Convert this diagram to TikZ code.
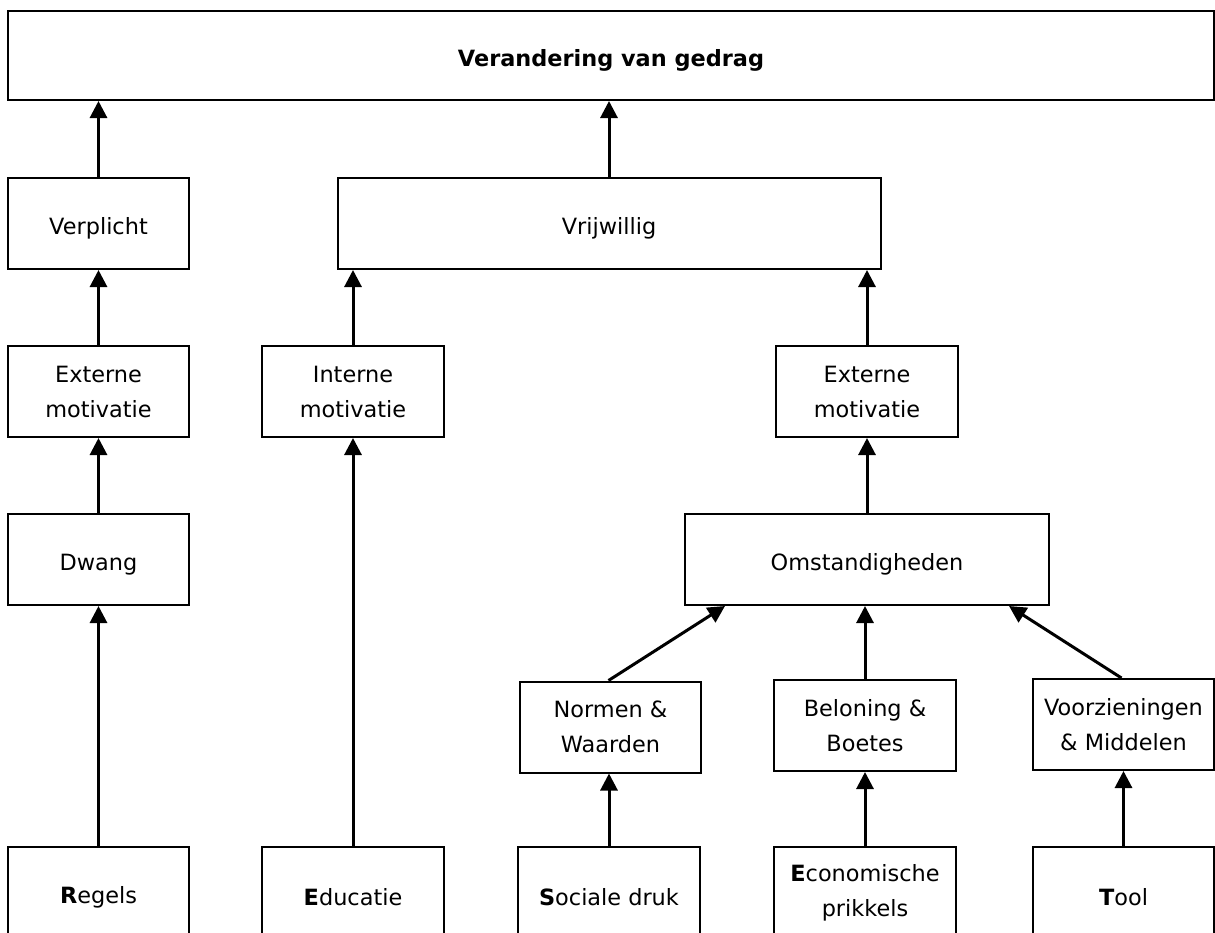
\documentclass[tikz,border=0pt]{standalone}
\usepackage{fontspec}
\setmainfont{DejaVu Sans}
\usepackage{tikz}
\usetikzlibrary{%
	arrows.meta,%
	calc%
}
\tikzset{
	blok/.style={draw,line width=1pt,align=center,minimum height=45.5pt,inner sep=2pt,font=\fontsize{11.2}{17.5}\selectfont,execute at begin node={\rule{0pt}{13pt}}},
	pijl/.style={line width=1.5pt,-{Triangle[width=8.5pt,length=8.5pt]}}
}

\begin{document}
\begin{tikzpicture}[x=0.5pt,y=-0.5pt]
	\clip (0,0) rectangle (1215,932);
	% bovenste rij
	\node[blok,minimum width=603pt,minimum height=44.5pt,font=\fontsize{11.2}{17.5}\selectfont\bfseries] (gedrag) at (611,55.5) {Verandering van gedrag};
	\node[blok,minimum width=90.5pt] (verplicht) at (98.5,223.5) {Verplicht};
	\node[blok,minimum width=271.5pt] (vrijwillig) at (609,223.5) {Vrijwillig};
	% motivatie
	\node[blok,minimum width=90.5pt] (extL) at (98.5,391.5) {Externe\\motivatie};
	\node[blok,minimum width=91pt] (intern) at (353,391.5) {Interne\\motivatie};
	\node[blok,minimum width=91pt] (extR) at (867,391.5) {Externe\\motivatie};
	\node[blok,minimum width=90.5pt] (dwang) at (98.5,559.5) {Dwang};
	\node[blok,minimum width=182pt] (omst) at (867,559.5) {Omstandigheden};
	% tussenlaag
	\node[blok,minimum width=90.5pt] (normen) at (610.5,727) {Normen \&\\Waarden};
	\node[blok,minimum width=91pt] (beloning) at (865,725.5) {Beloning \&\\Boetes};
	\node[blok,minimum width=90.5pt] (voorz) at (1123.5,724.5) {Voorzieningen\\\& Middelen};
	% onderste rij
	\node[blok,minimum width=90.5pt] (regels) at (98.5,892.5) {\textbf{R}egels};
	\node[blok,minimum width=91pt] (educatie) at (353,892.5) {\textbf{E}ducatie};
	\node[blok,minimum width=91pt] (sociaal) at (609,892.5) {\textbf{S}ociale druk};
	\node[blok,minimum width=91pt] (econ) at (865,892.5) {\textbf{E}conomische\\prikkels};
	\node[blok,minimum width=90.5pt] (tool) at (1123.5,892.5) {\textbf{T}ool};
	% pijlen
	\foreach \van/\naar in {verplicht/gedrag,vrijwillig/gedrag,extL/verplicht,intern/vrijwillig,extR/vrijwillig,dwang/extL,omst/extR,regels/dwang,educatie/intern,beloning/omst,sociaal/normen,econ/beloning,tool/voorz}
		\draw[pijl] (\van.north) -- (\van.north |- \naar.south);
	\draw[pijl] ([xshift=-1pt]normen.north) -- ([xshift=20.5pt]omst.south west);
	\draw[pijl] ([xshift=-1pt]voorz.north) -- ([xshift=-20.5pt]omst.south east);
\end{tikzpicture}
\end{document}
